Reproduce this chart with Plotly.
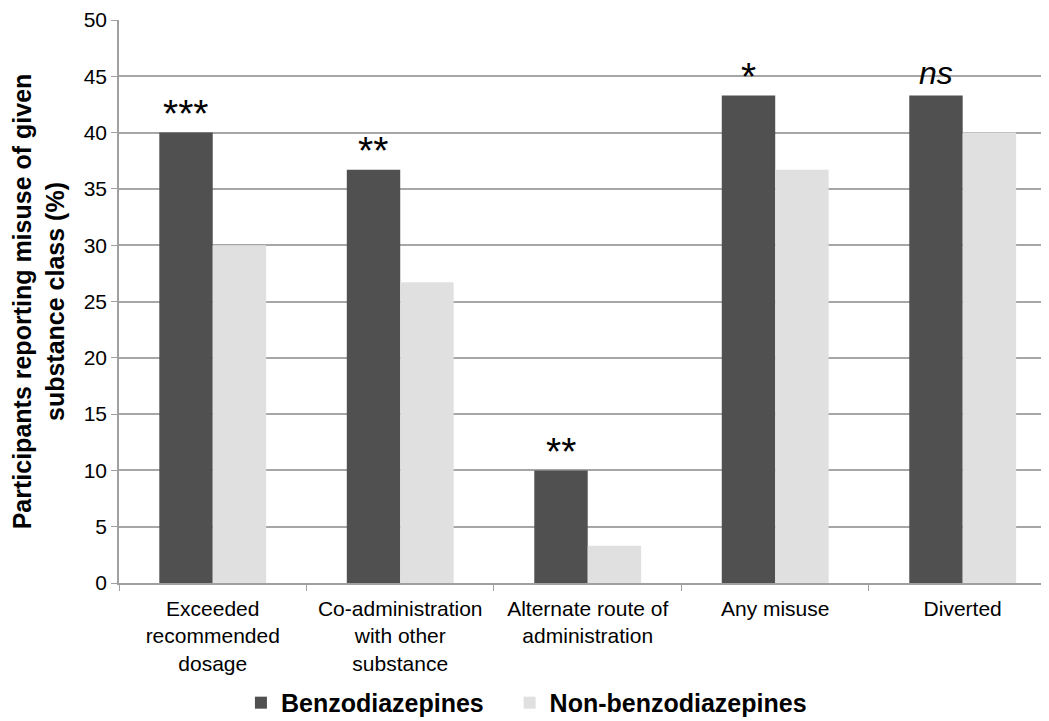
import plotly.graph_objects as go

categories = ["Exceeded<br>recommended<br>dosage", "Co-administration<br>with other<br>substance",
              "Alternate route of<br>administration", "Any misuse", "Diverted"]
benzo = [40.0, 36.7, 10.0, 43.3, 43.3]
non_benzo = [30.0, 26.7, 3.3, 36.7, 40.0]
significance = ["***", "**", "**", "*", "ns"]
y_ticks = [0, 5, 10, 15, 20, 25, 30, 35, 40, 45, 50]

fig = go.Figure()
fig.add_trace(go.Bar(name="Benzodiazepines\u00a0\u00a0\u00a0", x=categories, y=benzo,
                     marker=dict(color="#505050", line=dict(width=0))))
fig.add_trace(go.Bar(name="Non-benzodiazepines", x=categories, y=non_benzo,
                     marker=dict(color="#e0e0e0", line=dict(width=0))))

for cat, val, sig in zip(categories, benzo, significance):
    if sig == "ns":
        fig.add_annotation(x=cat, y=val, text="<i>ns</i>", showarrow=False,
                           xshift=-27, yshift=22, yanchor="middle",
                           font=dict(family="Arial, Liberation Sans", size=32, color="#000000"))
    else:
        fig.add_annotation(x=cat, y=val, text=sig, showarrow=False,
                           xshift=-27, yshift=19, yanchor="middle",
                           font=dict(family="Arial, Liberation Sans", size=39, color="#000000"))

fig.update_layout(
    width=1049, height=721,
    margin=dict(l=111, r=0, t=3, b=146),
    paper_bgcolor="white", plot_bgcolor="white",
    barmode="group", bargap=0.43, bargroupgap=0,
    font=dict(family="Arial, Liberation Sans", color="#000000"),
    showlegend=True,
    legend=dict(orientation="h", x=0.130, xanchor="left", y=-0.213, yanchor="middle",
                font=dict(size=25, family="Arial, Liberation Sans", weight="bold"),
                itemsizing="constant"),
    xaxis=dict(range=[-0.5, 4.503], showline=True, linecolor="#a0a0a0", linewidth=1.5,
               ticks="outside", tickson="boundaries", ticklen=6, tickcolor="#a0a0a0",
               tickfont=dict(size=21), showgrid=False, ticklabelstandoff=6),
    yaxis=dict(range=[0, 50], tickvals=y_ticks, showline=True, linecolor="#a0a0a0", linewidth=1.5,
               ticks="outside", ticklen=6, tickcolor="#a0a0a0", showgrid=True,
               gridcolor="#a6a6a6", gridwidth=1.5, tickfont=dict(size=21), zeroline=False,
               ticklabeloverflow="allow",
               title=dict(text="<b>Participants reporting misuse of given<br>substance class (%)</b>",
                          font=dict(size=25), standoff=13)),
)

fig.write_html("out.html")
